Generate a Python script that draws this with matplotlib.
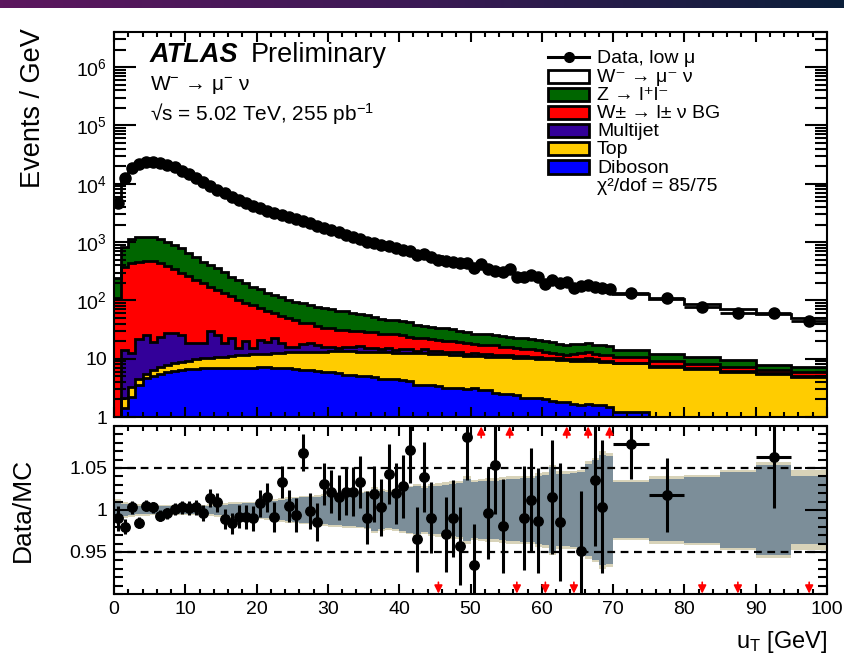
import matplotlib
matplotlib.use("Agg")
import matplotlib.pyplot as plt
import numpy as np
from matplotlib.colors import LinearSegmentedColormap
from matplotlib.lines import Line2D
from matplotlib.patches import Rectangle
from matplotlib.ticker import LogLocator, MultipleLocator, NullFormatter

plt.rcParams["font.family"] = ["Liberation Sans", "DejaVu Sans"]
plt.rcParams["mathtext.fontset"] = "custom"
plt.rcParams["mathtext.rm"] = "Liberation Sans"
plt.rcParams["mathtext.it"] = "Liberation Sans:italic"
plt.rcParams["mathtext.bf"] = "Liberation Sans:bold"

# 1 GeV bins up to 70 GeV, 5 GeV bins above
bin_edges = list(range(0, 71)) + [75, 80, 85, 90, 95, 100]

# Data, events / GeV
data = [4630, 12700, 18700, 22100, 23700, 23900, 22700, 21300, 19200, 16800,
        14700, 12400, 10600, 9160, 7920, 6870, 5940, 5200, 4680, 4210,
        3850, 3460, 3160, 2920, 2690, 2490, 2330, 2150, 1910, 1770,
        1610, 1470, 1320, 1210, 1120, 1020, 953, 892, 857, 782,
        731, 713, 608, 625, 548, 493, 480, 461, 433, 444,
        355, 421, 341, 324, 311, 341, 249, 255, 273, 249,
        191, 224, 196, 209, 165, 177, 184, 172, 161, 157,
        136, 108, 76, 61.5, 61.5, 44]

# Data / MC (points off the plotted range are drawn as red arrows)
ratio = [0.990, 0.980, 1.003, 0.985, 1.005, 1.003, 0.993, 0.996, 1.001, 1.003,
         1.002, 1.003, 0.996, 1.014, 1.009, 0.989, 0.984, 0.992, 0.992, 0.990,
         1.008, 1.015, 0.992, 1.033, 1.005, 0.994, 1.068, 0.999, 0.986, 1.031,
         1.022, 1.015, 1.022, 1.022, 1.033, 0.991, 1.019, 1.003, 1.043, 1.020,
         1.028, 1.072, 0.965, 1.039, 0.991, 0.87, 0.971, 0.990, 0.957, 1.087,
         0.934, 1.13, 0.996, 1.054, 0.981, 1.13, 0.87, 0.990, 1.012, 0.987,
         0.87, 1.015, 0.986, 1.13, 0.87, 0.951, 1.13, 1.036, 1.004, 1.13,
         1.078, 1.018, 0.87, 0.87, 1.063, 0.87]

# Background processes, events / GeV
diboson = [0.1, 1.4, 2.2, 3.6, 4.6, 5.0, 5.5, 5.9, 6.2, 6.4,
           6.6, 6.7, 6.8, 6.8, 6.9, 6.9, 6.9, 7.0, 6.9, 7.0,
           7.1, 7.3, 7.0, 6.9, 6.8, 6.7, 6.5, 6.3, 6.2, 6.0,
           5.8, 5.6, 5.3, 5.2, 5.1, 5.0, 4.8, 4.5, 4.4, 4.4,
           4.3, 4.1, 3.6, 3.5, 3.5, 3.4, 3.2, 3.1, 3.1, 3.0,
           3.1, 2.9, 2.9, 2.6, 2.5, 2.5, 2.4, 2.1, 2.1, 2.1,
           2.0, 1.9, 1.8, 1.8, 1.7, 1.6, 1.7, 1.6, 1.6, 1.5,
           1.2, 1.0, 1.0, 1.0, 1.0, 1.0]
top = [0.1, 0.7, 1.1, 0.9, 0.9, 1.4, 1.6, 1.9, 2.1, 2.4,
       2.6, 3.0, 3.3, 3.6, 3.7, 3.9, 4.2, 4.4, 4.7, 4.8,
       4.9, 4.9, 5.4, 5.7, 6.0, 6.2, 6.5, 6.8, 7.0, 7.2,
       7.5, 7.7, 8.1, 8.1, 8.1, 8.1, 8.2, 8.4, 8.4, 8.3,
       8.3, 8.4, 8.8, 8.8, 8.7, 8.6, 8.6, 8.5, 8.4, 8.3,
       8.0, 8.1, 8.0, 8.2, 8.1, 8.0, 8.0, 8.1, 8.0, 7.9,
       7.9, 7.9, 7.8, 7.6, 7.6, 7.6, 7.4, 7.4, 7.3, 7.3,
       7.1, 6.3, 5.6, 5.0, 4.5, 3.9]
multijet = [0.1, 12.2, 9.1, 17.0, 20.0, 13.2, 16.7, 19.4, 19.6, 16.7,
            9.6, 9.1, 8.7, 19.5, 14.9, 7.6, 11.3, 3.7, 8.8, 3.3,
            8.9, 7.4, 10.3, 5.8, 3.3, 3.2, 4.7, 5.7, 3.8, 2.9,
            2.8, 1.7, 2.2, 2.5, 3.0, 2.0, 2.2, 1.8, 2.6, 1.6,
            1.8, 2.0, 1.2, 2.2, 1.5, 1.5, 1.2, 1.3, 1.5, 0.9,
            1.4, 1.0, 1.1, 0.8, 0.9, 1.0, 0.7, 0.8, 0.6, 0.7,
            0.5, 0.6, 0.5, 0.6, 0.5, 0.6, 1.2, 0.8, 0.4, 0.4,
            0.3, 0.2, 0.2, 0.15, 0.1, 0.1]
w_bg = [108, 366, 433, 434, 454, 450, 409, 363, 322, 275,
        241, 206, 178, 140, 127, 115, 95, 85, 69, 67,
        52, 46, 37, 36, 34, 30, 24, 22, 20, 18,
        17, 16, 15, 14, 14, 14, 13, 12, 11, 11.7,
        10.6, 9.5, 9.4, 8.0, 7.8, 7.5, 7.5, 7.1, 6.0, 6.3,
        5.5, 5.5, 5.0, 5.4, 4.5, 4.5, 3.9, 3.8, 3.8, 3.3,
        2.6, 2.3, 1.9, 1.6, 2.2, 2.7, 2.7, 2.2, 2.2, 2.3,
        2.2, 1.7, 1.2, 0.95, 0.8, 1.0]
z_ll = [132, 440, 672, 755, 761, 740, 684, 626, 542, 482,
        398, 337, 264, 235, 204, 178, 138, 124, 107, 89,
        84, 69, 63, 59, 52, 49, 47, 42, 41, 39,
        37, 36, 35, 31, 28, 26, 24, 22, 20.5, 20,
        19, 18, 15, 13.5, 13.5, 13, 12.5, 12, 11, 10.5,
        9, 9, 9, 8.5, 8.5, 8, 8, 7.7, 7.5, 7,
        7, 6.8, 6, 5.9, 6, 5.5, 5.5, 5.5, 5.5, 5,
        3.3, 2.8, 2.5, 2.4, 1.4, 1.1]

# Relative MC uncertainty (half widths): total and inner component
band_outer = [0.013, 0.009, 0.008, 0.007, 0.007, 0.006, 0.006, 0.006, 0.006, 0.006,
              0.006, 0.006, 0.006, 0.007, 0.008, 0.008, 0.009, 0.009, 0.010, 0.010,
              0.011, 0.012, 0.013, 0.014, 0.015, 0.016, 0.017, 0.017, 0.018, 0.019,
              0.020, 0.020, 0.021, 0.021, 0.022, 0.023, 0.027, 0.025, 0.024, 0.025,
              0.027, 0.029, 0.031, 0.029, 0.031, 0.032, 0.033, 0.034, 0.035, 0.040,
              0.036, 0.037, 0.038, 0.038, 0.039, 0.040, 0.040, 0.041, 0.041, 0.044,
              0.045, 0.054, 0.046, 0.046, 0.047, 0.048, 0.058, 0.062, 0.070, 0.068,
              0.036, 0.040, 0.042, 0.048, 0.057, 0.048]
band_inner = [0.011, 0.007, 0.006, 0.005, 0.005, 0.0045, 0.0045, 0.0045, 0.0045, 0.0045,
              0.0045, 0.0045, 0.0045, 0.005, 0.006, 0.006, 0.007, 0.007, 0.008, 0.008,
              0.009, 0.010, 0.011, 0.012, 0.013, 0.014, 0.015, 0.015, 0.016, 0.017,
              0.018, 0.018, 0.019, 0.019, 0.020, 0.021, 0.025, 0.023, 0.022, 0.023,
              0.025, 0.027, 0.029, 0.026, 0.028, 0.029, 0.030, 0.031, 0.032, 0.037,
              0.033, 0.034, 0.035, 0.035, 0.036, 0.037, 0.037, 0.038, 0.038, 0.041,
              0.042, 0.051, 0.043, 0.043, 0.044, 0.045, 0.055, 0.059, 0.066, 0.064,
              0.033, 0.037, 0.039, 0.045, 0.053, 0.040]

labels = ["W⁻ → μ⁻ ν", "Z → l⁺l⁻", "W± → l± ν BG", "Multijet", "Top", "Diboson"]
colors = ["white", "#006600", "#ff0000", "#330099", "#ffcc00", "#0000ff"]

edges = np.array(bin_edges, dtype=float)
centers = 0.5 * (edges[:-1] + edges[1:])
widths = np.diff(edges)
data = np.array(data)
ratio = np.array(ratio)
mc_total = data / ratio
bkgs = np.array([diboson, top, multijet, w_bg, z_ll])
signal = mc_total - bkgs.sum(axis=0)
stack = np.cumsum(np.vstack([bkgs, signal]), axis=0)
stack_colors = colors[::-1]  # diboson ... signal

W, H = 844, 657


def box(x0, y0, x1, y1):
    return [x0 / W, 1 - y1 / H, (x1 - x0) / W, (y1 - y0) / H]


fig = plt.figure(figsize=(8.44, 6.57), dpi=100)

# banner strip at the very top
bax = fig.add_axes(box(0, 0, 844, 8))
cmap = LinearSegmentedColormap.from_list("banner", ["#5d175f", "#3b1a55", "#0b1f3a"])
bax.imshow(np.linspace(0, 1, 256)[None, :], aspect="auto", cmap=cmap)
bax.axis("off")

ax = fig.add_axes(box(114, 32, 827, 417))
rax = fig.add_axes(box(114, 426, 827, 594))

# stacked MC, drawn from the total downwards
for k in range(len(stack) - 1, -1, -1):
    ax.stairs(stack[k], edges, baseline=1e-3, fill=True, color=stack_colors[k], zorder=1)
for k in range(len(stack) - 1, -1, -1):
    ax.stairs(stack[k], edges, baseline=None, color="black", lw=2, zorder=2)

xerr = np.where(widths > 1, widths / 2, 0)
ax.errorbar(centers, data, yerr=np.sqrt(data * widths) / widths, xerr=xerr,
            fmt="o", color="black", ms=8, elinewidth=2, capsize=0, zorder=3)

ax.set_yscale("log")
ax.set_xlim(0, 100)
ax.set_ylim(1, 4e6)
ax.set_yticks([1, 10, 1e2, 1e3, 1e4, 1e5, 1e6],
              ["1", "10", "$10^{2}$", "$10^{3}$", "$10^{4}$", "$10^{5}$", "$10^{6}$"])
ax.yaxis.set_minor_locator(LogLocator(base=10, subs=np.arange(2, 10)))
ax.yaxis.set_minor_formatter(NullFormatter())
ax.xaxis.set_major_locator(MultipleLocator(10))
ax.xaxis.set_minor_locator(MultipleLocator(2))
ax.tick_params(which="both", direction="in", top=True, right=True, width=1.5,
               labelbottom=False, labelsize=14, pad=5)
ax.tick_params(axis="x", which="major", length=7.5)
ax.tick_params(axis="x", which="minor", length=3.8)
ax.tick_params(axis="y", which="major", length=16)
ax.tick_params(axis="y", which="minor", length=8.5)
for s in ax.spines.values():
    s.set_linewidth(1.5)

# labels inside the top panel
ax.text(0.0505, 0.922, "ATLAS", transform=ax.transAxes, fontsize=19.5,
        fontweight="bold", fontstyle="italic", va="baseline")
ax.text(0.1915, 0.922, "Preliminary", transform=ax.transAxes, fontsize=19.5, va="baseline")
ax.text(0.0505, 0.849, r"W$^{\mathrm{-}}$ → μ$^{\mathrm{-}}$ ν", transform=ax.transAxes,
        fontsize=15, va="baseline")
ax.text(0.0505, 0.769, r"√s = 5.02 TeV, 255 pb$^{\mathrm{-1}}$", transform=ax.transAxes,
        fontsize=15, va="baseline")

# legend, drawn by hand to match the tight ROOT layout
row_y = [57, 76, 94, 112, 130, 148, 167, 185]
bx0, bx1, tx = 548, 589, 597


def to_ax(px, py):
    return (px - 114) / 713, 1 - (py - 32) / 385


x0, y0 = to_ax(bx0, row_y[0])
x1, _ = to_ax(bx1, row_y[0])
ax.add_line(Line2D([x0, x1], [y0, y0], transform=ax.transAxes, color="black", lw=2.2))
ax.add_line(Line2D([(x0 + x1) / 2], [y0], transform=ax.transAxes, marker="o",
                   color="black", ms=7))
ax.text(*to_ax(tx, row_y[0] + 6), "Data, low μ", transform=ax.transAxes,
        fontsize=14, va="baseline")
for lab, col, ry in zip(labels, colors, row_y[1:7]):
    xa, ya = to_ax(bx0, ry + 6.5)
    xb, yb = to_ax(bx1, ry - 6.5)
    ax.add_patch(Rectangle((xa, ya), xb - xa, yb - ya, transform=ax.transAxes,
                           facecolor=col, edgecolor="black", lw=2, zorder=5))
    ax.text(*to_ax(tx, ry + 6), lab, transform=ax.transAxes, fontsize=14, va="baseline")
ax.text(*to_ax(tx, row_y[7] + 6), "χ²/dof = 85/75", transform=ax.transAxes,
        fontsize=14, va="baseline")

# ratio panel
band_outer = np.array(band_outer)
band_inner = np.array(band_inner)
rax.stairs(1 + band_outer, edges, baseline=1 - band_outer, fill=True, color="#d8d3b9", zorder=1)
rax.stairs(1 + band_inner, edges, baseline=1 - band_inner, fill=True, color="#7c8e99", zorder=1)
for yl in (0.95, 1.05):
    rax.axhline(yl, color="black", lw=1.6, ls=(0, (3.5, 2.5)), zorder=2)

inr = (ratio >= 0.9) & (ratio <= 1.1)
rerr = ratio / np.sqrt(data * widths)
rax.errorbar(centers[inr], ratio[inr], yerr=rerr[inr], xerr=xerr[inr], fmt="o",
             color="black", ms=6.8, elinewidth=2.2, capsize=0, zorder=3)
for xc, r in zip(centers, ratio):
    if r > 1.1:
        rax.annotate("", xy=(xc, 1.0995), xytext=(xc, 1.086),
                     arrowprops=dict(arrowstyle="-|>", color="red", lw=1.2,
                                     mutation_scale=12, shrinkA=0, shrinkB=0))
    elif r < 0.9:
        rax.annotate("", xy=(xc, 0.9005), xytext=(xc, 0.914),
                     arrowprops=dict(arrowstyle="-|>", color="red", lw=1.2,
                                     mutation_scale=12, shrinkA=0, shrinkB=0))

rax.set_xlim(0, 100)
rax.set_ylim(0.9, 1.1)
rax.set_yticks([0.95, 1.0, 1.05], ["0.95", "1", "1.05"])
rax.yaxis.set_minor_locator(MultipleLocator(0.01))
rax.xaxis.set_major_locator(MultipleLocator(10))
rax.xaxis.set_minor_locator(MultipleLocator(2))
rax.tick_params(which="both", direction="in", top=True, right=True, width=1.5,
                labelsize=14, pad=5)
rax.tick_params(axis="x", which="major", length=7.5)
rax.tick_params(axis="x", which="minor", length=3.8)
rax.tick_params(axis="y", which="major", length=16)
rax.tick_params(axis="y", which="minor", length=6.5)
for s in rax.spines.values():
    s.set_linewidth(1.5)

fig.text(33 / W, 1 - 28 / H, "Events / GeV", rotation=90, fontsize=19.5,
         ha="center", va="top")
fig.text(23 / W, 1 - 510 / H, "Data/MC", rotation=90, fontsize=19,
         ha="center", va="center")
fig.text(827 / W, 1 - 648 / H, r"u$_{\mathrm{T}}$ [GeV]", fontsize=17,
         ha="right", va="baseline")

fig.savefig("out.png", dpi=100)
